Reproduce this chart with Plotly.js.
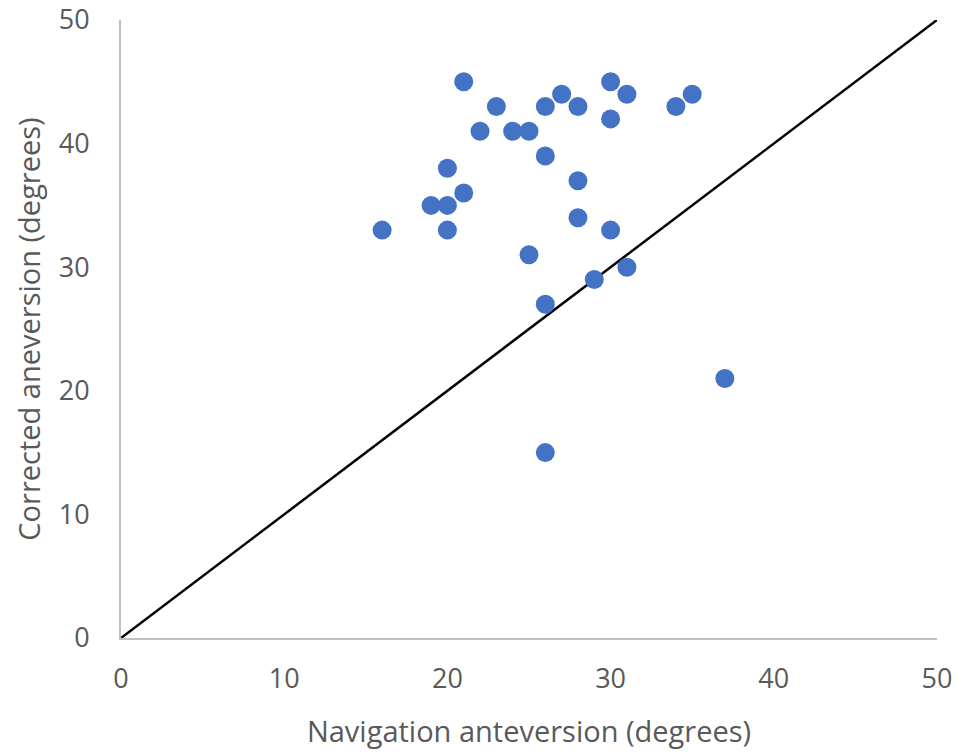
<!DOCTYPE html>
<html>
<head>
<meta charset="utf-8">
<script src="https://cdn.plot.ly/plotly-3.0.1.min.js"></script>
<style>html,body{margin:0;padding:0;background:#fff;}#chart{width:972px;height:756px;}</style>
</head>
<body>
<div id="chart"></div>
<script>
const navigationAnteversion = [16, 21, 23, 22, 24, 25, 26, 27, 28, 30, 31, 30, 26, 20, 21, 19, 20, 20, 28, 28, 30, 25, 31, 29, 26, 34, 35, 37, 26];
const correctedAnteversion  = [33, 45, 43, 41, 41, 41, 43, 44, 43, 45, 44, 42, 39, 38, 36, 35, 35, 33, 37, 34, 33, 31, 30, 29, 27, 43, 44, 21, 15];
const identityLineX = [0, 50];
const identityLineY = [0, 50];
const tickValues = [0, 10, 20, 30, 40, 50];

const traces = [
  {
    x: identityLineX, y: identityLineY, mode: 'lines', type: 'scatter',
    line: {color: '#000000', width: 2.5}, hoverinfo: 'skip', showlegend: false
  },
  {
    x: navigationAnteversion, y: correctedAnteversion, mode: 'markers', type: 'scatter',
    marker: {color: '#4472C4', size: 19, line: {width: 0}}, showlegend: false
  }
];

const fontFam = '"Open Sans", "Noto Sans", sans-serif';
const layout = {
  width: 972, height: 756,
  margin: {l: 121, r: 35, t: 20, b: 118, pad: 0},
  paper_bgcolor: '#ffffff', plot_bgcolor: '#ffffff',
  showlegend: false,
  xaxis: {
    range: [0, 50], tickvals: tickValues, ticktext: tickValues.map(String),
    showgrid: false, zeroline: false, showline: true, linecolor: '#BFBFBF', linewidth: 2,
    ticks: 'outside', ticklen: 16, tickcolor: 'rgba(0,0,0,0)',
    tickfont: {family: fontFam, size: 27, color: '#595959'},
    automargin: false,
    title: {text: 'Navigation anteversion (degrees)', standoff: 26,
      font: {family: fontFam, size: 29, color: '#595959'}}
  },
  yaxis: {
    range: [0, 50], tickvals: tickValues, ticktext: tickValues.map(String),
    showgrid: false, zeroline: false, showline: true, linecolor: '#BFBFBF', linewidth: 2,
    ticks: 'outside', ticklen: 24, tickcolor: 'rgba(0,0,0,0)',
    tickfont: {family: fontFam, size: 27, color: '#595959'},
    automargin: false,
    title: {text: 'Corrected aneversion (degrees)', standoff: 10,
      font: {family: fontFam, size: 29, color: '#595959'}}
  }
};

Plotly.newPlot('chart', traces, layout, {displayModeBar: false, staticPlot: true});
</script>
</body>
</html>
